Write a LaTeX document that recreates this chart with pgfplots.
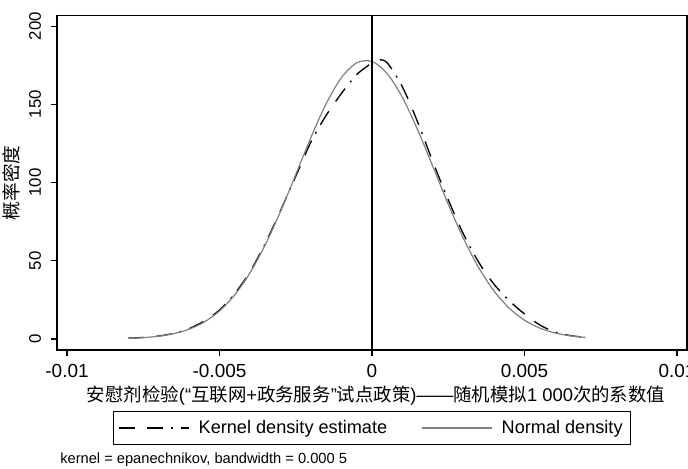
\documentclass[border=0pt]{standalone}
\usepackage{pgfplots}
\pgfplotsset{compat=1.18}
\usepackage{fontspec}
\setmainfont{Liberation Sans}
\newfontfamily\cjk{Noto Sans CJK SC}

% kernel density estimate
\pgfplotstableread{
x y
-0.0080 0.5
-0.0075 1.0
-0.0070 1.9
-0.0065 3.6
-0.0060 6.6
-0.0055 11.5
-0.0050 18.5
-0.0045 29
-0.0040 43
-0.0035 61
-0.0030 82
-0.0025 104
-0.0020 126
-0.0015 143
-0.0010 157
-0.0005 169
0.0000 176.5
0.0002 178.4
0.0005 176.5
0.0010 161
0.0015 138.5
0.0020 113
0.0025 89
0.0030 67
0.0035 49
0.0040 35
0.0045 24.5
0.0050 16
0.0055 9
0.0060 4.5
0.0065 2.2
0.0070 1.0
}\kdens

% normal density
\pgfplotstableread{
x y
-0.0080 0.41
-0.0075 0.88
-0.0070 1.78
-0.0065 3.41
-0.0060 6.24
-0.0055 10.84
-0.0050 17.93
-0.0045 28.2
-0.0040 42.3
-0.0035 60.2
-0.0030 81.5
-0.0025 105.1
-0.0020 128.9
-0.0015 150.5
-0.0010 167.1
-0.0005 176.5
0.0000 177.4
0.0005 169.6
0.0010 154.3
0.0015 133.5
0.0020 110.0
0.0025 86.2
0.0030 64.2
0.0035 45.5
0.0040 30.7
0.0045 19.7
0.0050 12.0
0.0055 6.99
0.0060 3.86
0.0065 2.03
0.0070 1.02
}\ndens

\begin{document}
\begin{tikzpicture}
\useasboundingbox (-42.75pt,-88.5pt) rectangle (473.25pt,262.5pt);
\begin{axis}[
    at={(0pt,0pt)}, anchor=south west,
    scale only axis,
    width=472.5pt, height=250.7pt,
    xmin=-0.010328, xmax=0.010328,
    ymin=-7.03, ymax=206.6,
    axis line style={line width=1pt},
    tick align=outside,
    major tick length=4.5pt,
    tick style={line width=0.8pt, black},
    scaled x ticks=false,
    xtick={-0.01,-0.005,0,0.005,0.01},
    xticklabels={-0.01,-0.005,0,0.005,0.01},
    xtick pos=bottom, ytick pos=left,
    ytick={0,50,100,150,200},
    /pgf/number format/assume math mode=true,
    xticklabel style={font=\fontsize{14.2}{16}\selectfont, yshift=-3pt},
    yticklabel style={xshift=-4pt, font=\fontsize{12.6}{14}\selectfont, rotate=90, anchor=south},
    xlabel={{\cjk 安慰剂检验}(“{\cjk 互联网}+{\cjk 政务服务}”{\cjk 试点政策})——{\cjk 随机模拟}1 000{\cjk 次的系数值}},
    xlabel style={font=\fontsize{13.8}{16}\selectfont, xshift=3pt, yshift=1pt},
    ylabel={\cjk 概率密度},
    ylabel style={font=\fontsize{14}{16}\selectfont},
    legend columns=2,
    legend image code/.code={\draw[#1] (0pt,0pt) -- (52pt,0pt); \path (57pt,0pt);},
    legend style={at={(0.5,-0.1825)}, anchor=north,
        draw=black, line width=0.8pt,
        font=\fontsize{13.6}{16}\selectfont,
        inner xsep=4pt, inner ysep=4.6pt,
        /tikz/every even column/.append style={column sep=24pt}},
    clip=false,
]
\addplot[black, line width=1pt, smooth, dash pattern=on 12pt off 9pt on 12pt off 6pt on 1.5pt off 6pt] table[x=x,y=y] {\kdens};
\addlegendentry{Kernel density estimate}
\addplot[black!50, line width=0.9pt, smooth] table[x=x,y=y] {\ndens};
\addlegendentry{Normal density}
\draw[black, line width=1pt] (axis cs:0,-7.03) -- (axis cs:0,206.6);
\node[anchor=base west, font=\fontsize{11}{13}\selectfont, inner sep=0pt]
    at (rel axis cs:0.0048,-0.341) {kernel = epanechnikov, bandwidth = 0.000 5};
\end{axis}
\end{tikzpicture}
\end{document}
